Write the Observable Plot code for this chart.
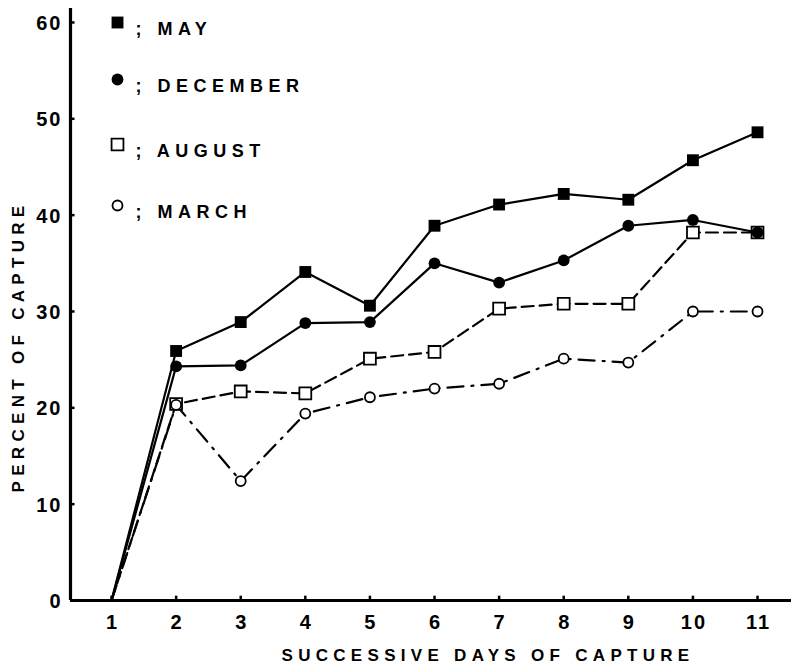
<!DOCTYPE html>
<html>
<head>
<meta charset="utf-8">
<script src="https://cdn.jsdelivr.net/npm/d3@7"></script>
<script src="https://cdn.jsdelivr.net/npm/@observablehq/plot@0.6"></script>
<style>
  html, body { margin: 0; padding: 0; background: #fff; }
  #chart { width: 791px; height: 670px; }
</style>
</head>
<body>
<div id="chart"></div>
<script>
// ---- data ----
const days = [1, 2, 3, 4, 5, 6, 7, 8, 9, 10, 11];
const may      = [0, 25.9, 28.9, 34.1, 30.6, 38.9, 41.1, 42.2, 41.6, 45.7, 48.6];
const december = [0, 24.3, 24.4, 28.8, 28.9, 35.0, 33.0, 35.3, 38.9, 39.5, 38.2];
const august   = [0, 20.4, 21.7, 21.5, 25.1, 25.8, 30.3, 30.8, 30.8, 38.2, 38.2];
const march    = [0, 20.3, 12.4, 19.4, 21.1, 22.0, 22.5, 25.1, 24.7, 30.0, 30.0];
const seriesNames = ["MAY", "DECEMBER", "AUGUST", "MARCH"];
const yTicks = [0, 10, 20, 30, 40, 50, 60];
const xTicks = days;
const xTitle = "SUCCESSIVE DAYS OF CAPTURE";
const yTitle = "PERCENT OF CAPTURE";

// ---- styling ----
const FONT = "'Liberation Sans', Arial, Helvetica, sans-serif";
const styles = {
  MAY:      {symbol: "square", r: 6.7, fill: "black", stroke: "none", dash: null},
  DECEMBER: {symbol: "circle", r: 5.9, fill: "black", stroke: "none", dash: null},
  AUGUST:   {symbol: "square", r: 6.7, fill: "white", stroke: "black", dash: "12,6"},
  MARCH:    {symbol: "circle", r: 5.0, fill: "white", stroke: "black", dash: "16,8,2,8"}
};
const valuesByName = {MAY: may, DECEMBER: december, AUGUST: august, MARCH: march};
const rowsOf = name => days.map((d, i) => ({day: d, value: valuesByName[name][i], series: name}));

const xDomain = [0.365, 11.526];
const yDomain = [0, 61.45];
const legendY = [14, 71, 136, 197];

const lineMarks = seriesNames.map(name => Plot.line(rowsOf(name), {
  x: "day", y: "value", stroke: "black", strokeWidth: 2.2,
  strokeDasharray: styles[name].dash, strokeLinejoin: "round"
}));
// open markers first, filled on top
const dotOrder = ["AUGUST", "MARCH", "DECEMBER", "MAY"];
const dotMarks = dotOrder.map(name => Plot.dot(rowsOf(name).filter(r => r.day > 1), {
  x: "day", y: "value", symbol: styles[name].symbol, r: styles[name].r,
  fill: styles[name].fill, stroke: styles[name].stroke, strokeWidth: 1.8
}));
const legendMarks = seriesNames.flatMap((name, i) => [
  Plot.dot([name], {frameAnchor: "top-left", dx: 47, dy: legendY[i],
    symbol: styles[name].symbol, r: styles[name].r,
    fill: styles[name].fill, stroke: styles[name].stroke, strokeWidth: 1.8}),
  Plot.text([name], {frameAnchor: "top-left", dx: 65, dy: legendY[i], text: d => "; " + d,
    textAnchor: "start", fontSize: 18, fontWeight: "bold", fill: "black"})
]);

const chart = Plot.plot({
  width: 791, height: 670,
  marginLeft: 70, marginRight: 0, marginTop: 8, marginBottom: 70,
  x: {domain: xDomain, axis: null},
  y: {domain: yDomain, axis: null},
  style: {fontFamily: FONT, background: "#fff", color: "black", overflow: "visible"},
  marks: [
    ...lineMarks,
    ...dotMarks,
    // axis lines
    Plot.ruleY([0], {stroke: "black", strokeWidth: 3}),
    Plot.ruleX([xDomain[0]], {stroke: "black", strokeWidth: 3.2}),
    // inward ticks
    Plot.ruleY(yTicks, {x1: xDomain[0], x2: xDomain[0] + 0.07, stroke: "black", strokeWidth: 2.5}),
    Plot.ruleX(xTicks, {y1: 0, y2: 0.45, stroke: "black", strokeWidth: 2.5}),
    // tick labels
    Plot.text(yTicks, {x: xDomain[0], y: d => d, text: d => String(d), textAnchor: "end",
      dx: -8, dy: 1, fontSize: 20, fontWeight: "bold", fill: "black"}),
    Plot.text(xTicks, {x: d => d, y: 0, text: d => String(d), dx: 1, dy: 22,
      fontSize: 20, fontWeight: "bold", fill: "black"}),
    // axis titles
    Plot.text([xTitle], {frameAnchor: "bottom", textAnchor: "middle", dx: 57, dy: 60,
      fontSize: 17, fontWeight: "bold", fill: "black"}),
    Plot.text([yTitle], {frameAnchor: "left", textAnchor: "middle", rotate: -90, dx: -52, dy: 42,
      fontSize: 17, fontWeight: "bold", fill: "black"}),
    ...legendMarks
  ]
});

// letter spacing for the typeset look
d3.select(chart).selectAll("text").each(function() {
  const t = this.textContent;
  if (t === xTitle || t === yTitle) d3.select(this).attr("letter-spacing", 5.3);
  else if (t.startsWith(";")) d3.select(this).attr("letter-spacing", 5.5);
  else if (/^\d+$/.test(t)) d3.select(this).attr("letter-spacing", 2);
});

document.getElementById("chart").appendChild(chart);
</script>
</body>
</html>
